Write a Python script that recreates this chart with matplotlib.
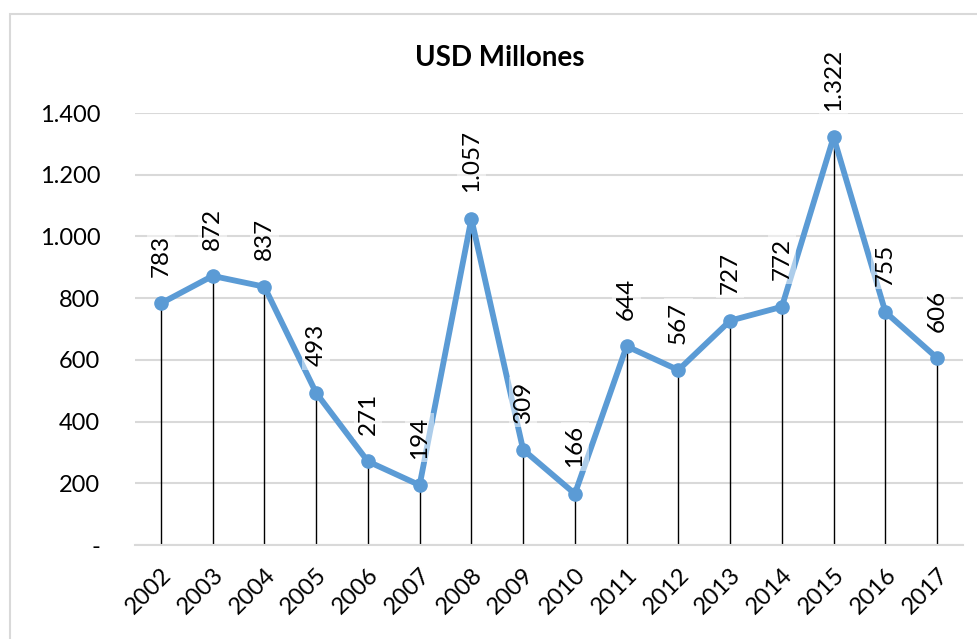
import matplotlib.pyplot as plt
from matplotlib.patches import Rectangle

years = ['2002', '2003', '2004', '2005', '2006', '2007', '2008', '2009',
         '2010', '2011', '2012', '2013', '2014', '2015', '2016', '2017']
values = [783, 872, 837, 493, 271, 194, 1057, 309,
          166, 644, 567, 727, 772, 1322, 755, 606]
yticks = [0, 200, 400, 600, 800, 1000, 1200, 1400]


def fmt(v):
    if v == 0:
        return '-'
    return f'{v:,}'.replace(',', '.')


plt.rcParams['font.family'] = ['Lato', 'DejaVu Sans']

fig = plt.figure(figsize=(9.77, 6.39), dpi=100)
ax = fig.add_axes([135 / 977, 1 - 545 / 639, (963 - 135) / 977, (545 - 113) / 639])

# outer chart border
fig.patches.append(Rectangle((10 / 977, -0.05), 1.0, 1 - 14 / 639 + 0.05,
                             transform=fig.transFigure, fill=False,
                             edgecolor='#d9d9d9', linewidth=1.5))

x = list(range(len(years)))
ax.vlines(x, 0, values, color='black', linewidth=1, zorder=2)
ax.plot(x, values, color='#5b9bd5', linewidth=4.2, marker='o', markersize=9.5, zorder=3)

for xi, v in zip(x, values):
    ax.annotate(fmt(v), (xi, v), xytext=(0, 19), textcoords='offset points',
                rotation=90, ha='center', va='bottom', fontsize=17.5,
                bbox=dict(boxstyle='square,pad=0.15', facecolor='white',
                          edgecolor='none', alpha=0.5), zorder=4)

ax.set_xlim(-0.5, len(years) - 0.5)
ax.set_ylim(0, 1400)
ax.set_yticks(yticks)
ax.set_yticklabels([fmt(v) for v in yticks], fontsize=17)
ax.set_xticks(x)
ax.set_xticklabels(years, rotation=45, ha='right', rotation_mode='anchor', fontsize=17)
ax.tick_params(length=0)
ax.tick_params(axis='y', pad=25)
ax.tick_params(axis='x', pad=14)
ax.yaxis.grid(True, color='#d9d9d9', linewidth=1.5, zorder=0)
ax.set_axisbelow(True)
for s in ['top', 'right', 'left']:
    ax.spines[s].set_visible(False)
ax.spines['bottom'].set_color('#d9d9d9')
ax.spines['bottom'].set_linewidth(1.5)

fig.text(0.512, 1 - 58 / 639, 'USD Millones', ha='center', va='center',
         fontsize=20, fontweight='bold')

fig.savefig('out.png', dpi=100)
